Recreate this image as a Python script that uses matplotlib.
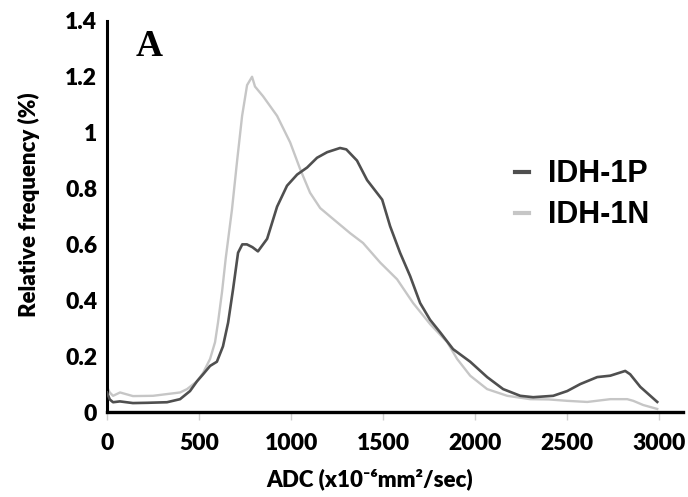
import matplotlib

matplotlib.use("Agg")
import matplotlib.pyplot as plt

# ADC histogram values
P_ADC = [0, 15, 33, 70, 141, 220, 326, 397, 451, 489, 522, 560, 597, 630, 658, 685,
         712, 735, 760, 790, 820, 870, 924, 978, 1033, 1087, 1141, 1196, 1266, 1300,
         1358, 1413, 1495, 1538, 1592, 1647, 1701, 1755, 1810, 1880, 1973, 2065, 2152,
         2245, 2315, 2424, 2500, 2571, 2663, 2734, 2815, 2842, 2897, 2989]
P_FREQ = [0.07, 0.045, 0.035, 0.038, 0.032, 0.033, 0.035, 0.046, 0.075, 0.11, 0.135,
          0.165, 0.18, 0.235, 0.32, 0.44, 0.57, 0.60, 0.60, 0.59, 0.575, 0.62, 0.735,
          0.81, 0.85, 0.875, 0.91, 0.93, 0.945, 0.94, 0.90, 0.83, 0.76, 0.665, 0.57,
          0.486, 0.39, 0.33, 0.285, 0.225, 0.18, 0.125, 0.082, 0.058, 0.053, 0.058,
          0.075, 0.10, 0.125, 0.13, 0.147, 0.135, 0.09, 0.036]

N_ADC = [0, 15, 33, 71, 141, 250, 397, 435, 489, 522, 560, 587, 603, 625, 645, 679,
         707, 734, 761, 788, 804, 848, 924, 995, 1049, 1103, 1158, 1212, 1321, 1391,
         1484, 1576, 1663, 1755, 1848, 1902, 1973, 2065, 2174, 2299, 2400, 2500, 2609,
         2734, 2826, 2859, 2913, 2989]
N_FREQ = [0.09, 0.07, 0.058, 0.07, 0.057, 0.058, 0.07, 0.082, 0.11, 0.14, 0.19, 0.25,
          0.32, 0.43, 0.55, 0.725, 0.90, 1.06, 1.17, 1.20, 1.165, 1.13, 1.06, 0.965,
          0.87, 0.785, 0.73, 0.70, 0.64, 0.605, 0.535, 0.475, 0.39, 0.315, 0.25, 0.19,
          0.13, 0.082, 0.058, 0.046, 0.045, 0.04, 0.036, 0.046, 0.046, 0.04, 0.025, 0.011]

X_TICKS = [0, 500, 1000, 1500, 2000, 2500, 3000]
Y_TICKS = [0, 0.2, 0.4, 0.6, 0.8, 1.0, 1.2, 1.4]
Y_LABELS = ["0", "0.2", "0.4", "0.6", "0.8", "1", "1.2", "1.4"]

DARK = "#4f4f4f"
LIGHT = "#c6c6c6"
FONT = ["Lato", "DejaVu Sans"]


def main() -> None:
    fig = plt.figure(figsize=(6.88, 4.97), dpi=100)
    ax = fig.add_axes([0.1555, 0.171, 0.8375, 0.787])

    ax.plot(N_ADC, N_FREQ, color=LIGHT, linewidth=1.7, zorder=2)
    ax.plot(P_ADC, P_FREQ, color=DARK, linewidth=1.9, zorder=3)

    ax.set_xlim(0, 3130)
    ax.set_ylim(0, 1.4)
    ax.set_xticks(X_TICKS)
    ax.set_yticks(Y_TICKS, Y_LABELS)
    for label in ax.get_xticklabels() + ax.get_yticklabels():
        label.set_family(FONT)
        label.set_fontweight("heavy")
        label.set_fontsize(16.5)
    ax.tick_params(axis="x", length=6, width=1, color="#cfcfcf", pad=9)
    ax.tick_params(axis="y", length=0, pad=7)

    for side in ("top", "right"):
        ax.spines[side].set_visible(False)
    ax.spines["left"].set_linewidth(2.2)
    ax.spines["bottom"].set_linewidth(2.4)

    ax.set_xlabel("ADC (x10\u207b\u2076mm\u00b2/sec)", family=FONT, fontweight="heavy",
                  fontsize=16)
    ax.xaxis.set_label_coords(0.455, -0.145)
    ax.set_ylabel("Relative frequency (%)", family=FONT, fontweight="heavy",
                  fontsize=16)
    ax.yaxis.set_label_coords(-0.117, 0.53)

    ax.text(0.05, 0.978, "A", transform=ax.transAxes, ha="left", va="top",
            family="Liberation Serif", fontweight="bold", fontsize=27)

    h_p, = ax.plot([], [], color=DARK, linewidth=3)
    h_n, = ax.plot([], [], color=LIGHT, linewidth=3)
    ax.legend([h_p, h_n], ["IDH-1P", "IDH-1N"], loc="center left",
              bbox_to_anchor=(0.66, 0.555), frameon=False,
              prop={"family": "Liberation Sans", "size": 22, "weight": "bold"},
              handlelength=0.45, handletextpad=0.65, labelspacing=0.36)

    fig.savefig("out.png", dpi=100, facecolor="white")
    plt.close(fig)


if __name__ == "__main__":
    main()
